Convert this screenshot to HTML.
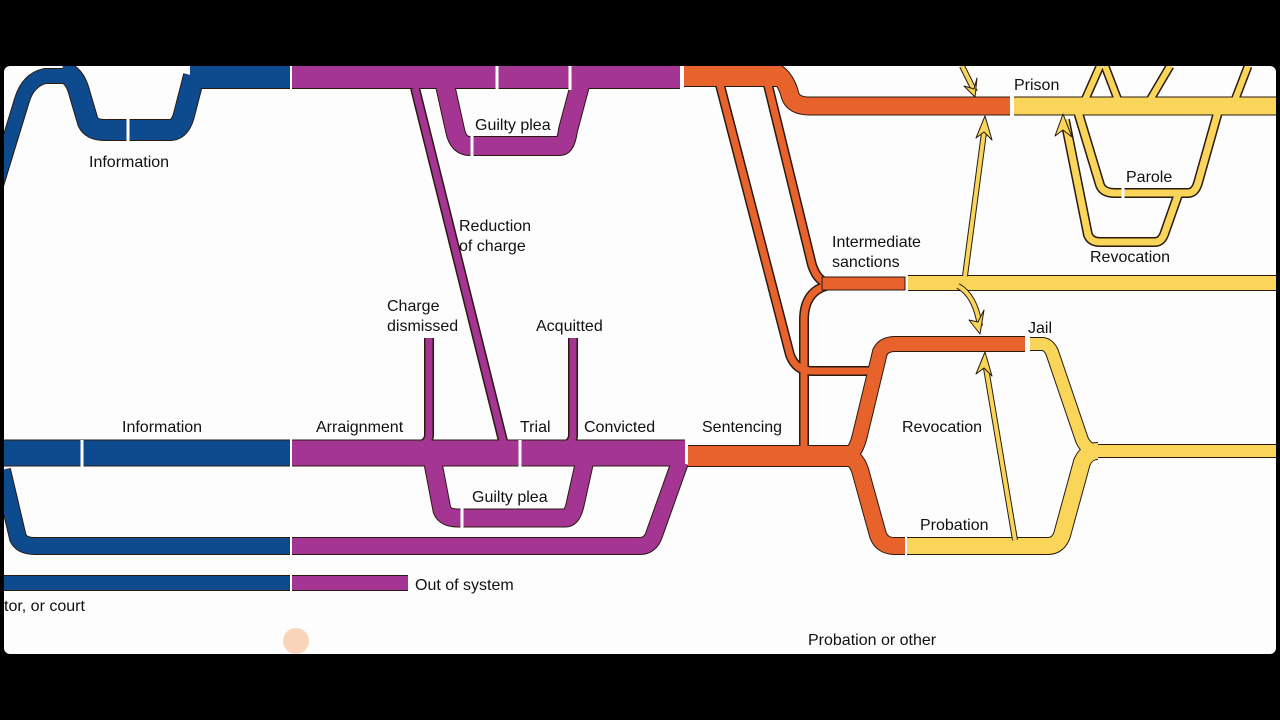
<!DOCTYPE html>
<html><head><meta charset="utf-8"><style>
body{margin:0;background:#000;width:1280px;height:720px;overflow:hidden}
svg{display:block}
text{font-family:"Liberation Sans",sans-serif;font-size:16px;fill:#111}
</style></head><body>
<svg width="1280" height="720" viewBox="0 0 1280 720">
<rect x="0" y="0" width="1280" height="720" fill="#000"/>
<rect x="4" y="66" width="1272" height="588" rx="6" fill="#fdfdfd"/>
<defs>
<clipPath id="c"><rect x="4" y="66" width="1272" height="588" rx="6"/></clipPath>
</defs>
<g clip-path="url(#c)" stroke-linejoin="round" fill="none">
<!-- outline layer -->
<g stroke="#2a1a10">
 <path d="M-4,185 L22,100 Q28,80 45,76 L70,76" stroke-width="16"/>
 <path d="M190,77 L290,77" stroke-width="24"/>
 <path d="M62,72 Q75,74 80,95 L88,122 Q92,130 105,130 L170,130 Q180,130 184,115 L194,76" stroke-width="22"/>
 <path d="M4,453 L290,453" stroke-width="27"/>
 <path d="M2,470 L18,538 Q22,546 35,546 L290,546" stroke-width="18"/>
 <path d="M4,583 L290,583" stroke-width="16"/>
 <path d="M292,77 L680,77" stroke-width="24"/>
 <path d="M445,85 L455,130 Q458,146 470,146 L560,146 Q566,146 568,130 L580,85" stroke-width="20"/>
 <path d="M415,88 L504,445" stroke-width="10"/>
 <path d="M292,453 L685,453" stroke-width="27"/>
 <path d="M429,338 L429,435 Q429,442 420,446" stroke-width="10"/>
 <path d="M573,338 L573,435 Q573,442 565,446" stroke-width="10"/>
 <path d="M432,458 L442,510 Q445,518 458,518 L565,518 Q572,518 575,505 L585,460" stroke-width="19"/>
 <path d="M292,546 L640,546 Q650,546 654,535 L680,462" stroke-width="18"/>
 <path d="M292,583 L408,583" stroke-width="16"/>
 <path d="M684,76 L780,76" stroke-width="22"/>
 <path d="M770,70 Q785,75 790,95 Q793,106 810,106 L1010,106" stroke-width="19"/>
 <path d="M720,85 L790,355 Q796,371 812,371 L880,371" stroke-width="10"/>
 <path d="M768,85 L812,265 Q818,283 830,283 L905,283" stroke-width="10"/>
 <path d="M804,446 L804,320 Q804,290 830,285" stroke-width="10"/>
 <path d="M688,456 L845,456 Q855,456 860,435 L880,352 Q884,344 895,344 L1025,344" stroke-width="16"/>
 <path d="M845,456 Q855,456 860,470 L878,535 Q882,546 895,546 L905,546" stroke-width="18"/>
 <path d="M688,456 L850,456" stroke-width="22"/>
 <path d="M1014,106 L1280,106" stroke-width="19"/>
 <path d="M908,283 L1280,283" stroke-width="16"/>
 <path d="M1078,112 L1100,185 Q1103,193 1115,193 L1188,193 Q1195,193 1198,183 L1218,112" stroke-width="10"/>
 <path d="M1065,120 L1088,235 Q1091,242 1100,242 L1155,242 Q1162,242 1165,232 L1178,195" stroke-width="10"/>
 <path d="M1085,100 L1100,66 M1118,100 L1105,66 M1150,100 L1170,66 M1235,100 L1248,66" stroke-width="9"/>
 <path d="M1030,344 L1042,344 Q1048,344 1052,352 L1082,440 Q1087,451 1098,451 L1280,451" stroke-width="14"/>
 <path d="M907,546 L1048,546 Q1058,546 1062,535 L1082,462 Q1087,451 1098,451" stroke-width="18"/>
</g>
<g stroke="#0d4a8e">
 <path d="M-4,185 L22,100 Q28,80 45,76 L70,76" stroke-width="14"/>
 <path d="M190,77 L290,77" stroke-width="22"/>
 <path d="M62,72 Q75,74 80,95 L88,122 Q92,130 105,130 L170,130 Q180,130 184,115 L194,76" stroke-width="20"/>
 <path d="M4,453 L290,453" stroke-width="25"/>
 <path d="M2,470 L18,538 Q22,546 35,546 L290,546" stroke-width="16"/>
 <path d="M4,583 L290,583" stroke-width="14"/>
</g>
<g stroke="#a53592">
 <path d="M292,77 L680,77" stroke-width="22"/>
 <path d="M445,85 L455,130 Q458,146 470,146 L560,146 Q566,146 568,130 L580,85" stroke-width="18"/>
 <path d="M415,88 L504,445" stroke-width="7"/>
 <path d="M292,453 L685,453" stroke-width="25"/>
 <path d="M429,338 L429,435 Q429,442 420,446" stroke-width="7"/>
 <path d="M573,338 L573,435 Q573,442 565,446" stroke-width="7"/>
 <path d="M432,458 L442,510 Q445,518 458,518 L565,518 Q572,518 575,505 L585,460" stroke-width="17"/>
 <path d="M292,546 L640,546 Q650,546 654,535 L680,462" stroke-width="16"/>
 <path d="M292,583 L408,583" stroke-width="14"/>
</g>
<g stroke="#e8622b">
 <path d="M684,76 L780,76" stroke-width="20"/>
 <path d="M770,70 Q785,75 790,95 Q793,106 810,106 L1010,106" stroke-width="17"/>
 <path d="M720,85 L790,355 Q796,371 812,371 L880,371" stroke-width="7"/>
 <path d="M768,85 L812,265 Q818,283 830,283 L905,283" stroke-width="7"/>
 <path d="M822,276 L905,276 L905,290 L822,290" stroke-width="0"/>
 <path d="M804,446 L804,320 Q804,290 830,285" stroke-width="7"/>
 <path d="M688,456 L845,456 Q855,456 860,435 L880,352 Q884,344 895,344 L1025,344" stroke-width="14"/>
 <path d="M845,456 Q855,456 860,470 L878,535 Q882,546 895,546 L905,546" stroke-width="16"/>
 <path d="M688,456 L850,456" stroke-width="20"/>
</g>
<rect x="822" y="277" width="83" height="13" fill="#e8622b" stroke="#2a1a10" stroke-width="1"/>
<g stroke="#f9d55a">
 <path d="M1014,106 L1280,106" stroke-width="17"/>
 <path d="M908,283 L1280,283" stroke-width="14"/>
 <path d="M1078,112 L1100,185 Q1103,193 1115,193 L1188,193 Q1195,193 1198,183 L1218,112" stroke-width="7"/>
 <path d="M1065,120 L1088,235 Q1091,242 1100,242 L1155,242 Q1162,242 1165,232 L1178,195" stroke-width="7"/>
 <path d="M1085,100 L1100,66 M1118,100 L1105,66 M1150,100 L1170,66 M1235,100 L1248,66" stroke-width="6"/>
 <path d="M1030,344 L1042,344 Q1048,344 1052,352 L1082,440 Q1087,451 1098,451 L1280,451" stroke-width="12"/>
 <path d="M907,546 L1048,546 Q1058,546 1062,535 L1082,462 Q1087,451 1098,451" stroke-width="16"/>
</g>
<g stroke="#fff" stroke-width="3">
 <path d="M128,115 L128,142 M82,440 L82,467 M497,64 L497,90 M570,64 L570,90 M472,135 L472,157 M520,440 L520,467 M462,508 L462,528 M1123,185 L1123,201"/>
</g>
<g stroke="#2a1a10" stroke-width="6"><path d="M962,66 L975,92 M965,276 Q975,200 985,125 M958,286 Q975,295 980,326 M1015,540 L985,362"/></g>
<g stroke="#f9d55a" stroke-width="4"><path d="M962,66 L975,92 M965,276 Q975,200 985,125 M958,286 Q975,295 980,326 M1015,540 L985,362"/></g>
<g fill="#f9d55a" stroke="#2a1a10" stroke-width="1">
 <path d="M975,97 L964,86 L974,89 L977,78 Z"/>
 <path d="M985,116 L976,138 L984,132 L992,140 Z"/>
 <path d="M980,334 L969,320 L978,322 L984,310 Z"/>
 <path d="M985,352 L976,374 L984,368 L992,376 Z"/>
 <path d="M1063,114 L1055,136 L1063,130 L1072,137 Z"/>
</g>
</g>
<g>
<text x="89" y="167">Information</text>
<text x="475" y="130">Guilty plea</text>
<text x="459" y="231">Reduction</text>
<text x="459" y="251">of charge</text>
<text x="387" y="311">Charge</text>
<text x="387" y="331">dismissed</text>
<text x="536" y="331">Acquitted</text>
<text x="122" y="432">Information</text>
<text x="316" y="432">Arraignment</text>
<text x="520" y="432">Trial</text>
<text x="584" y="432">Convicted</text>
<text x="702" y="432">Sentencing</text>
<text x="472" y="502">Guilty plea</text>
<text x="415" y="590">Out of system</text>
<text x="4" y="611">tor, or court</text>
<text x="1014" y="90">Prison</text>
<text x="1126" y="182">Parole</text>
<text x="1090" y="262">Revocation</text>
<text x="832" y="247">Intermediate</text>
<text x="832" y="267">sanctions</text>
<text x="1028" y="333">Jail</text>
<text x="902" y="432">Revocation</text>
<text x="920" y="530">Probation</text>
<text x="808" y="645">Probation or other</text>
</g>
<circle cx="296" cy="641" r="13" fill="#f7c9a8" opacity="0.8"/>
</svg>
</body></html>
